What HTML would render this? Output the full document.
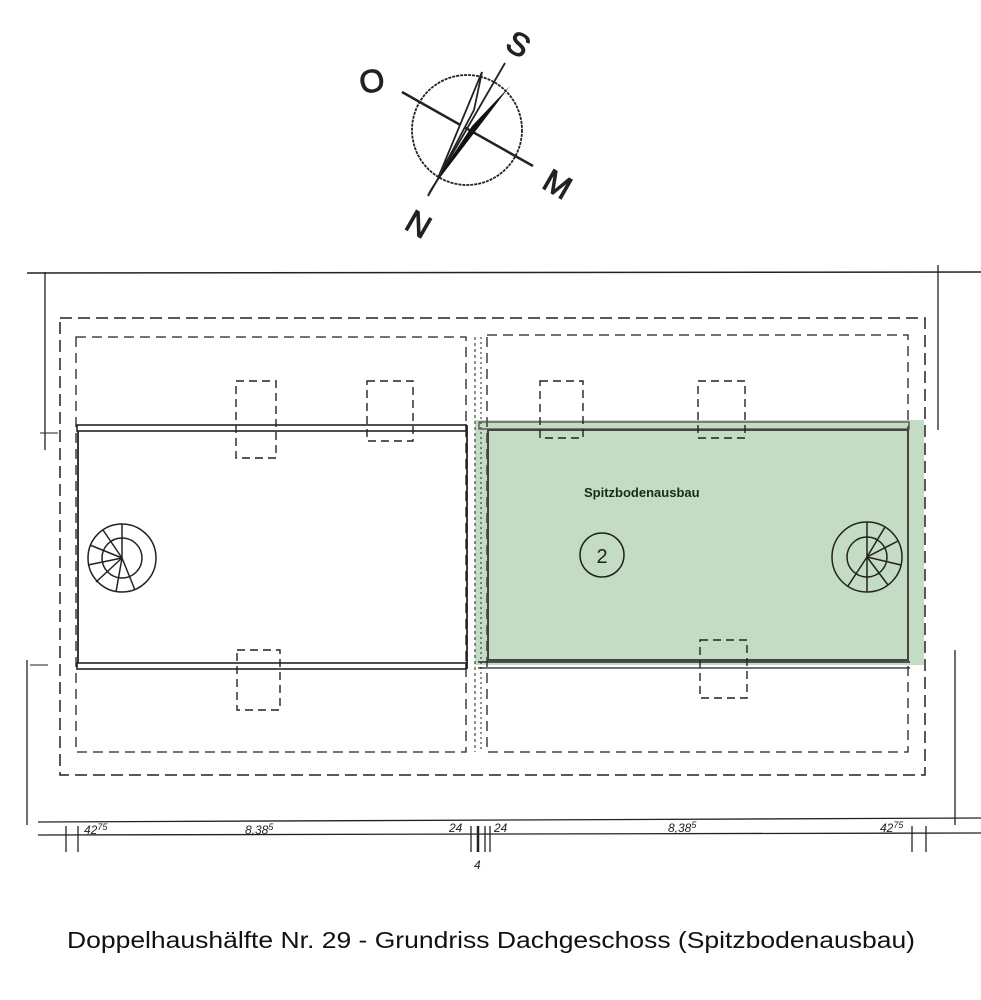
<!DOCTYPE html>
<html><head><meta charset="utf-8"><style>
html,body{margin:0;padding:0;background:#fff;}
svg{display:block;}
text{font-family:"Liberation Sans",sans-serif;}
</style></head><body>
<svg width="981" height="1000" viewBox="0 0 981 1000" xmlns="http://www.w3.org/2000/svg">
<rect width="981" height="1000" fill="#fff"/>
<!-- compass -->
<g stroke="#222" fill="none">
<circle cx="467" cy="130" r="55" stroke-width="1.8" stroke-dasharray="3 1"/>
<line x1="402" y1="92" x2="533" y2="166" stroke-width="2.5"/>
<line x1="428" y1="196" x2="505" y2="63" stroke-width="1.8"/>
</g>
<polygon points="426,196 510,86 472,126" fill="#111"/>
<polygon points="438,178 482,72 474,110" fill="#fff" stroke="#222" stroke-width="1.8"/>
<g font-size="32" fill="#222" stroke="#222" stroke-width="1" text-anchor="middle">
<text x="372" y="92" transform="rotate(-10 372 82)">O</text>
<text x="518" y="55" transform="rotate(30 518 45)">S</text>
<text x="557" y="195" transform="rotate(30 557 185)">M</text>
<text x="418" y="235" transform="rotate(30 418 225)">N</text>
</g>
<!-- green room -->
<rect x="475" y="420" width="449" height="245" fill="#c3dcc3"/>
<g fill="none" stroke="#222">
<line x1="27" y1="273" x2="981" y2="272" stroke-width="1.5"/>
<line x1="45" y1="272" x2="45" y2="450" stroke-width="1.3"/>
<line x1="938" y1="265" x2="938" y2="430" stroke-width="1.3"/>
<line x1="27" y1="660" x2="27" y2="825" stroke-width="1.3"/>
<line x1="955" y1="650" x2="955" y2="825" stroke-width="1.3"/>
<line x1="40" y1="433" x2="58" y2="433"/>
<line x1="30" y1="665" x2="48" y2="665"/>
<rect x="60" y="318" width="865" height="457" stroke-width="1.5" stroke-dasharray="12 6"/>
<rect x="76" y="337" width="390" height="415" stroke-width="1.3" stroke-dasharray="10 6"/>
<rect x="487" y="335" width="421" height="417" stroke-width="1.3" stroke-dasharray="10 6"/>
<line x1="475" y1="337" x2="475" y2="752" stroke-width="1" stroke-dasharray="3 3"/>
<line x1="481" y1="337" x2="481" y2="752" stroke-width="1" stroke-dasharray="2 3"/>
<rect x="77" y="425" width="389" height="6" fill="#fff" stroke-width="1.6"/>
<rect x="77" y="663" width="389" height="6" fill="#fff" stroke-width="1.6"/>
<line x1="78" y1="431" x2="78" y2="663" stroke-width="1.8"/>
<line x1="467" y1="425" x2="467" y2="669" stroke-width="1.8"/>
<rect x="479" y="422" width="430" height="7" stroke="#555" stroke-width="1.4"/>
<rect x="488" y="430" width="420" height="230" stroke="#444" stroke-width="2"/>
<line x1="478" y1="662" x2="910" y2="662" stroke-width="1.4"/>
<line x1="478" y1="668" x2="910" y2="668" stroke-width="1.2"/>
<g stroke-width="1.4" stroke-dasharray="8 5">
<rect x="236" y="381" width="40" height="77"/>
<rect x="367" y="381" width="46" height="60"/>
<rect x="540" y="381" width="43" height="57"/>
<rect x="698" y="381" width="47" height="57"/>
<rect x="237" y="650" width="43" height="60"/>
<rect x="700" y="640" width="47" height="58"/>
</g>
<g stroke-width="1.5">
<circle cx="122" cy="558" r="34"/>
<circle cx="122" cy="558" r="20"/>
<line x1="122" y1="524" x2="122" y2="558"/>
<line x1="122" y1="558" x2="103" y2="530"/>
<line x1="122" y1="558" x2="90" y2="545"/>
<line x1="122" y1="558" x2="88" y2="565"/>
<line x1="122" y1="558" x2="96" y2="582"/>
<line x1="122" y1="558" x2="116" y2="592"/>
<line x1="122" y1="558" x2="135" y2="590"/>
<circle cx="867" cy="557" r="35"/>
<circle cx="867" cy="557" r="20"/>
<line x1="867" y1="522" x2="867" y2="592"/>
<line x1="867" y1="557" x2="885" y2="527"/>
<line x1="867" y1="557" x2="898" y2="541"/>
<line x1="867" y1="557" x2="901" y2="565"/>
<line x1="867" y1="557" x2="888" y2="585"/>
<line x1="867" y1="557" x2="848" y2="586"/>
</g>
<circle cx="602" cy="555" r="22" stroke-width="1.5"/>
<line x1="38" y1="822" x2="981" y2="818" stroke-width="1.3"/>
<line x1="38" y1="835" x2="981" y2="833" stroke-width="1.3"/>
<g stroke-width="1.3">
<line x1="66" y1="826" x2="66" y2="852"/>
<line x1="78" y1="826" x2="78" y2="852"/>
<line x1="471" y1="826" x2="471" y2="852"/>
<line x1="478" y1="826" x2="478" y2="852" stroke-width="2.5"/>
<line x1="485" y1="826" x2="485" y2="852"/>
<line x1="490" y1="826" x2="490" y2="852"/>
<line x1="912" y1="826" x2="912" y2="852"/>
<line x1="926" y1="826" x2="926" y2="852"/>
</g>
</g>
<g font-size="12" fill="#222" font-style="italic">
<text x="84" y="834">42<tspan font-size="9" dy="-4">75</tspan></text>
<text x="245" y="834">8,38<tspan font-size="9" dy="-4">5</tspan></text>
<text x="449" y="832">24</text>
<text x="494" y="832">24</text>
<text x="668" y="832">8,38<tspan font-size="9" dy="-4">5</tspan></text>
<text x="880" y="832">42<tspan font-size="9" dy="-4">75</tspan></text>
<text x="474" y="869">4</text>
</g>
<text x="584" y="497" font-size="13" font-weight="bold" fill="#1a2a1a">Spitzbodenausbau</text>
<text x="602" y="563" font-size="20" fill="#222" text-anchor="middle">2</text>
<text x="67" y="948" font-size="23" fill="#111" textLength="848" lengthAdjust="spacingAndGlyphs">Doppelhaushälfte Nr. 29 - Grundriss Dachgeschoss (Spitzbodenausbau)</text>
</svg>
</body></html>
